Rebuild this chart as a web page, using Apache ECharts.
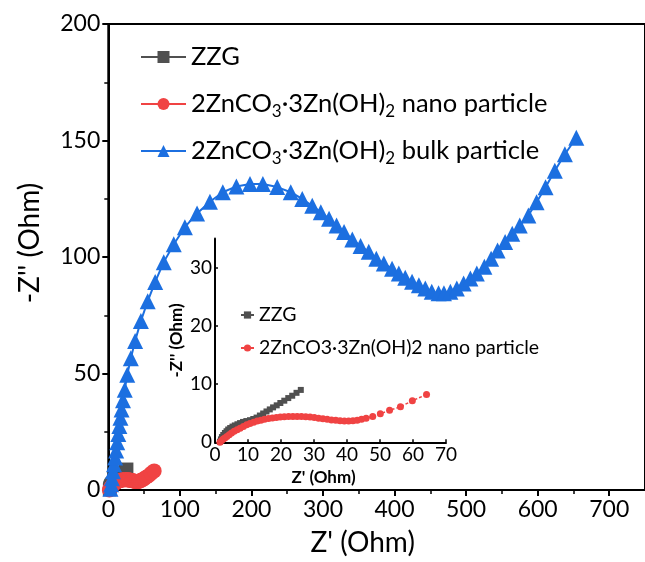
<!DOCTYPE html>
<html>
<head>
<meta charset="utf-8">
<script src="https://cdn.jsdelivr.net/npm/echarts@6/dist/echarts.min.js"></script>
<style>
  html, body { margin: 0; padding: 0; background: #fff; }
  #chart { width: 645px; height: 562px; }
</style>
</head>
<body>
<div id="chart"></div>
<script>
// Nyquist data, Z' (Ohm) vs -Z'' (Ohm)
const zzgX = [1.5, 1.8, 2.1, 2.5, 3.0, 3.5, 4.0, 4.6, 5.3, 6.0, 6.8, 7.6, 8.5, 9.5, 10.6, 11.6, 12.6, 13.6, 14.6, 15.6, 16.6, 17.6, 18.7, 19.8, 21.0, 22.2, 23.4, 24.7, 26.0];
const zzgY = [0.1, 0.5, 0.9, 1.25, 1.6, 1.9, 2.2, 2.45, 2.7, 2.9, 3.1, 3.3, 3.5, 3.65, 3.8, 4.0, 4.25, 4.6, 4.95, 5.3, 5.65, 6.0, 6.35, 6.75, 7.15, 7.6, 8.0, 8.5, 9.0];

const nanoX = [1.5, 2.0, 2.5, 3.0, 3.6, 4.3, 5.0, 5.8, 6.7, 7.6, 8.6, 9.6, 10.6, 11.7, 12.8, 13.9, 15.0, 16.2, 17.4, 18.6, 19.8, 21.0, 22.3, 23.6, 24.9, 26.2, 27.5, 28.8, 30.1, 31.4, 32.7, 34.0, 35.3, 36.6, 37.9, 39.2, 40.5, 41.8, 43.1, 44.4, 45.8, 47.8, 50.1, 52.9, 56.2, 59.8, 64.1];
const nanoY = [0.0, 0.3, 0.55, 0.75, 1.0, 1.3, 1.6, 1.9, 2.15, 2.4, 2.7, 3.0, 3.25, 3.45, 3.65, 3.8, 3.95, 4.08, 4.18, 4.27, 4.34, 4.4, 4.43, 4.45, 4.45, 4.43, 4.4, 4.33, 4.25, 4.15, 4.05, 3.95, 3.85, 3.78, 3.72, 3.68, 3.67, 3.7, 3.8, 3.95, 4.15, 4.45, 4.9, 5.5, 6.1, 7.15, 8.2];

const bulkX = [3, 4, 5, 6.5, 8, 9.5, 11, 12.5, 14, 15.5, 17, 18.5, 20.5, 23, 26.5, 31.5, 37.5, 45.5, 55, 65.5, 77.5, 91.5, 107, 124, 142, 160, 179, 198, 216, 236, 255, 271, 285, 297, 308.5, 319, 329.5, 341, 352.5, 364, 374.5, 385, 396.5, 406, 415, 424.5, 434, 443, 452, 461.5, 469, 478, 487, 496.5, 506, 515, 525.5, 535, 544, 554.5, 564.5, 575, 587, 598.5, 611, 624, 638, 654];
const bulkY = [0.5, 2.5, 5, 8, 11, 14, 17, 20.5, 24, 27.5, 31, 34.5, 38.5, 43, 49.5, 56.5, 64, 72.5, 81, 89.3, 97.8, 105.5, 112.8, 118.7, 123.7, 127.8, 130.3, 131.3, 131.3, 130, 127.8, 124.9, 122, 119.2, 116.4, 113.5, 110.7, 107.5, 104.7, 102.2, 99.3, 97.2, 95, 92.9, 91.1, 89.4, 87.9, 86.5, 85.1, 84.4, 84.4, 85.1, 86.5, 88.6, 90.8, 92.9, 95.8, 99.3, 102.8, 106.4, 110, 113.5, 117.8, 123.5, 129.9, 137, 144.1, 151.2];

// axis ticks
const mainXTicks = [0, 100, 200, 300, 400, 500, 600, 700];
const mainXMinorTicks = [50, 150, 250, 350, 450, 550, 650];
const insetXTicks = [0, 10, 20, 30, 40, 50, 60, 70];
const insetYTicks = [0, 10, 20, 30];

const NAME_ZZG = 'ZZG';
const NAME_NANO = '2ZnCO3·3Zn(OH)2 nano particle';
const NAME_BULK = '2ZnCO3·3Zn(OH)2 bulk particle';

const C_GRAY = '#505050';
const C_RED = '#f04343';
const C_BLUE = '#1c6fe0';
const FONT = 'Lato';

const pairs = (xs, ys) => xs.map((x, i) => [x, ys[i]]);

const chart = echarts.init(document.getElementById('chart'), null, { renderer: 'canvas' });

const axisLineStyle = { color: '#000', width: 2 };

chart.setOption({
  animation: false,
  textStyle: { fontFamily: FONT },
  grid: [
    { left: 108.3, top: 24, right: -2.5, bottom: 69.3, show: true, borderColor: '#000', borderWidth: 2 },
    { left: 215, top: 238.6, width: 231, height: 203.7 }
  ],
  legend: [
    {
      data: [NAME_ZZG, NAME_NANO, NAME_BULK],
      orient: 'vertical',
      left: 140, top: 41, padding: 0,
      itemWidth: 45, itemHeight: 15, itemGap: 15,
      textStyle: {
        fontFamily: FONT, fontSize: 25.5, color: '#000', lineHeight: 32,
        rich: { sub: { fontFamily: FONT, fontSize: 17, lineHeight: 17, verticalAlign: 'bottom', color: '#000' } }
      },
      formatter: n => n.replace('CO3', 'CO{sub|3}').replace('(OH)2', '(OH){sub|2}')
    },
    {
      data: [NAME_ZZG, NAME_NANO],
      orient: 'vertical',
      left: 240, top: 304, padding: 0,
      itemWidth: 13, itemHeight: 9, itemGap: 11,
      textStyle: { fontFamily: FONT, fontSize: 19.5, color: '#000', lineHeight: 22 }
    }
  ],
  xAxis: [
    {
      gridIndex: 0, type: 'value', min: 0, max: 750, interval: 100,
      axisLine: { lineStyle: axisLineStyle },
      axisTick: { inside: false, length: 6, lineStyle: { width: 2, color: '#000' }, customValues: mainXTicks },
      axisLabel: { fontSize: 23, color: '#000', margin: 8, customValues: mainXTicks },
      splitLine: { show: false },
      name: "Z' (Ohm)", nameLocation: 'middle', nameGap: 39,
      nameTextStyle: { fontSize: 28, color: '#000', padding: [0, 28, 0, 0] }
    },
    {
      gridIndex: 0, type: 'value', min: 0, max: 750, position: 'bottom',
      axisLine: { show: false },
      axisTick: { inside: false, length: 4, lineStyle: { width: 1.5, color: '#000' }, customValues: mainXMinorTicks },
      axisLabel: { show: false },
      splitLine: { show: false }
    },
    {
      gridIndex: 1, type: 'value', min: 0, max: 70, interval: 10,
      axisLine: { lineStyle: axisLineStyle },
      axisTick: { inside: true, length: 3, lineStyle: { width: 1.5, color: '#000' }, customValues: insetXTicks },
      axisLabel: { fontSize: 19, color: '#000', margin: 3, customValues: insetXTicks },
      splitLine: { show: false },
      name: "Z' (Ohm)", nameLocation: 'middle', nameGap: 27,
      nameTextStyle: { fontSize: 17, fontWeight: 'bold', color: '#000', padding: [0, 14, 0, 0] }
    }
  ],
  yAxis: [
    {
      gridIndex: 0, type: 'value', min: 0, max: 200, interval: 50,
      axisLine: { lineStyle: axisLineStyle },
      axisTick: { inside: false, length: 6, lineStyle: { width: 2, color: '#000' } },
      minorTick: { show: true, splitNumber: 2, length: 4, lineStyle: { width: 1.5, color: '#000' } },
      axisLabel: { fontSize: 23, color: '#000', margin: 8 },
      splitLine: { show: false },
      minorSplitLine: { show: false },
      name: "-Z'' (Ohm)", nameLocation: 'middle', nameGap: 64,
      nameTextStyle: { fontSize: 28, color: '#000', padding: [0, 0, 0, 28] }
    },
    {
      gridIndex: 1, type: 'value', min: 0, max: 35,
      axisLine: { lineStyle: axisLineStyle },
      axisTick: { inside: true, length: 3, lineStyle: { width: 1.5, color: '#000' }, customValues: insetYTicks },
      axisLabel: { fontSize: 19, color: '#000', margin: 3, customValues: insetYTicks },
      splitLine: { show: false },
      name: "-Z'' (Ohm)", nameLocation: 'middle', nameGap: 30,
      nameTextStyle: { fontSize: 17, fontWeight: 'bold', color: '#000' }
    }
  ],
  series: [
    {
      name: NAME_ZZG, type: 'line', xAxisIndex: 0, yAxisIndex: 0,
      data: pairs(zzgX, zzgY), symbol: 'rect', symbolSize: 13,
      itemStyle: { color: C_GRAY }, lineStyle: { color: C_GRAY, width: 2 }
    },
    {
      name: NAME_NANO, type: 'line', xAxisIndex: 0, yAxisIndex: 0,
      data: pairs(nanoX, nanoY), symbol: 'circle', symbolSize: 15,
      itemStyle: { color: C_RED }, lineStyle: { color: C_RED, width: 2 }
    },
    {
      name: NAME_BULK, type: 'line', xAxisIndex: 0, yAxisIndex: 0,
      data: pairs(bulkX, bulkY), symbol: 'triangle', symbolSize: 16,
      itemStyle: { color: C_BLUE }, lineStyle: { color: C_BLUE, width: 2 }
    },
    {
      name: NAME_ZZG, type: 'line', xAxisIndex: 2, yAxisIndex: 1,
      data: pairs(zzgX, zzgY), symbol: 'rect', symbolSize: 6,
      itemStyle: { color: C_GRAY }, lineStyle: { color: C_GRAY, width: 1.5 }
    },
    {
      name: NAME_NANO, type: 'line', xAxisIndex: 2, yAxisIndex: 1,
      data: pairs(nanoX, nanoY), symbol: 'circle', symbolSize: 7,
      itemStyle: { color: C_RED }, lineStyle: { color: C_RED, width: 1.5, type: [3, 2] }
    }
  ]
});
</script>
</body>
</html>
